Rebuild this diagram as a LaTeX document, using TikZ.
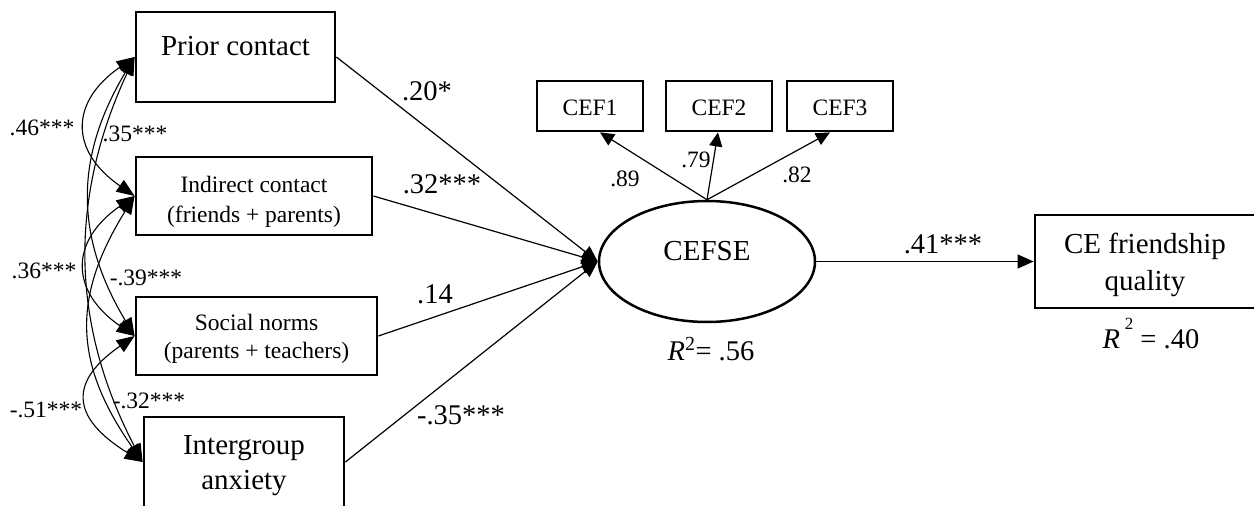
\documentclass[tikz,border=0pt]{standalone}
\usepackage{fontspec}
\setmainfont{Liberation Serif}
\usetikzlibrary{arrows.meta,shapes.geometric,calc}
\begin{document}
\begin{tikzpicture}[x=1pt,y=-1pt,
  box/.style={draw, line width=2.8pt, inner sep=0pt},
  big/.style={font=\fontsize{29}{36}\selectfont, inner sep=0pt, anchor=base},
  small/.style={font=\fontsize{23.5}{30}\selectfont, inner sep=0pt, anchor=base},
  lab/.style={font=\fontsize{28.5}{34}\selectfont, inner sep=0pt, anchor=base},
  conn/.style={line width=1.2pt, -{Triangle[length=16pt,width=14pt]}},
  cov/.style={line width=1.1pt, {Triangle[length=18pt,width=14pt]}-{Triangle[length=18pt,width=14pt]}},
]
\useasboundingbox (0,0) rectangle (1254,506);
\fill[white] (0,0) rectangle (1254,506);

% boxes
\node[box, minimum width=199pt, minimum height=90pt] (prior) at (235.5,57) {};
\node[box, minimum width=236pt, minimum height=78pt] (indirect) at (254,196) {};
\node[box, minimum width=241pt, minimum height=78pt] (social) at (256.5,336) {};
\node[box, minimum width=200pt, minimum height=90pt] (anxiety) at (244,462) {};
\node[box, minimum width=221pt, minimum height=93pt] (friend) at (1145.5,261.5) {};
\node[box, minimum width=106pt, minimum height=50pt] (cef1) at (590,106) {};
\node[box, minimum width=106pt, minimum height=50pt] (cef2) at (719,106) {};
\node[box, minimum width=106pt, minimum height=50pt] (cef3) at (840,106) {};
\node[draw, ellipse, line width=2.5pt, minimum width=216pt, minimum height=121pt, inner sep=0pt] (cefse) at (707,261.5) {};

% box texts
\node[big] (tprior) at (235.5,55) {Prior contact};
\node[small] (tind1) at (254,192) {Indirect contact};
\node[small] (tind2) at (254,222) {(friends + parents)};
\node[small] (tsoc1) at (256.5,330) {Social norms};
\node[small] (tsoc2) at (256.5,358) {(parents + teachers)};
\node[big] (tanx1) at (244,454) {Intergroup};
\node[big] (tanx2) at (244,489) {anxiety};
\node[big] (tfr1) at (1145,253) {CE friendship};
\node[big] (tfr2) at (1145,290) {quality};
\node[big] (tcefse) at (707,260) {CEFSE};
\node[small] (tcef1) at (590,115) {CEF1};
\node[small] (tcef2) at (719,115) {CEF2};
\node[small] (tcef3) at (840,115) {CEF3};

% R squared
\node[lab] (r1) at (711,360) {\textit{R}\textsuperscript{2}= .56};
\node[lab] (r2) at (1151,348) {\textit{R}\,\raisebox{19pt}{\fontsize{17}{17}\selectfont 2} = .40};

% structural paths
\draw[conn] (prior.east) -- (cefse.west);
\draw[conn] (indirect.east) -- (cefse.west);
\draw[conn] (social.east) -- (cefse.west);
\draw[conn] (anxiety.east) -- (cefse.west);
\draw[conn] (cefse.east) -- (friend.west);

% loadings
\draw[conn, -{Triangle[length=14pt,width=13pt]}] (cefse.north) -- ($(cef1.south)+(10,0)$);
\draw[conn, -{Triangle[length=14pt,width=13pt]}] (cefse.north) -- ($(cef2.south)+(-1,0)$);
\draw[conn, -{Triangle[length=14pt,width=13pt]}] (cefse.north) -- ($(cef3.south)+(-10,0)$);

% covariances
\draw[cov] (prior.west) .. controls +(-65,45) and +(-65,-45) .. (indirect.west);
\draw[cov] (indirect.west) .. controls +(-65,45) and +(-65,-45) .. (social.west);
\draw[cov] (social.west) .. controls +(-65,45) and +(-73,-45) .. (anxiety.west);
\draw[cov] (prior.west) .. controls +(-60,100) and +(-60,-100) .. (social.west);
\draw[cov] (indirect.west) .. controls +(-62,100) and +(-70,-100) .. (anxiety.west);
\draw[cov] (prior.west) .. controls +(-65,140) and +(-73,-140) .. (anxiety.west);

% path labels
\node[lab] (l20) at (427,100) {.20*};
\node[lab] (l32) at (442,193) {.32***};
\node[lab] (l14) at (435,303) {.14};
\node[lab] (l35) at (461,424) {-.35***};
\node[lab] (l41) at (943,253) {.41***};
\node[small] (l89) at (625,186) {.89};
\node[small] (l79) at (696,167) {.79};
\node[small] (l82) at (797,182) {.82};

% covariance labels
\node[small] (c46) at (42,135) {.46***};
\node[small] (c35) at (135,141) {.35***};
\node[small] (c36) at (44,278) {.36***};
\node[small] (c39) at (146,285) {-.39***};
\node[small] (c51) at (46,417) {-.51***};
\node[small] (c32) at (149,408) {-.32***};
\end{tikzpicture}
\end{document}
